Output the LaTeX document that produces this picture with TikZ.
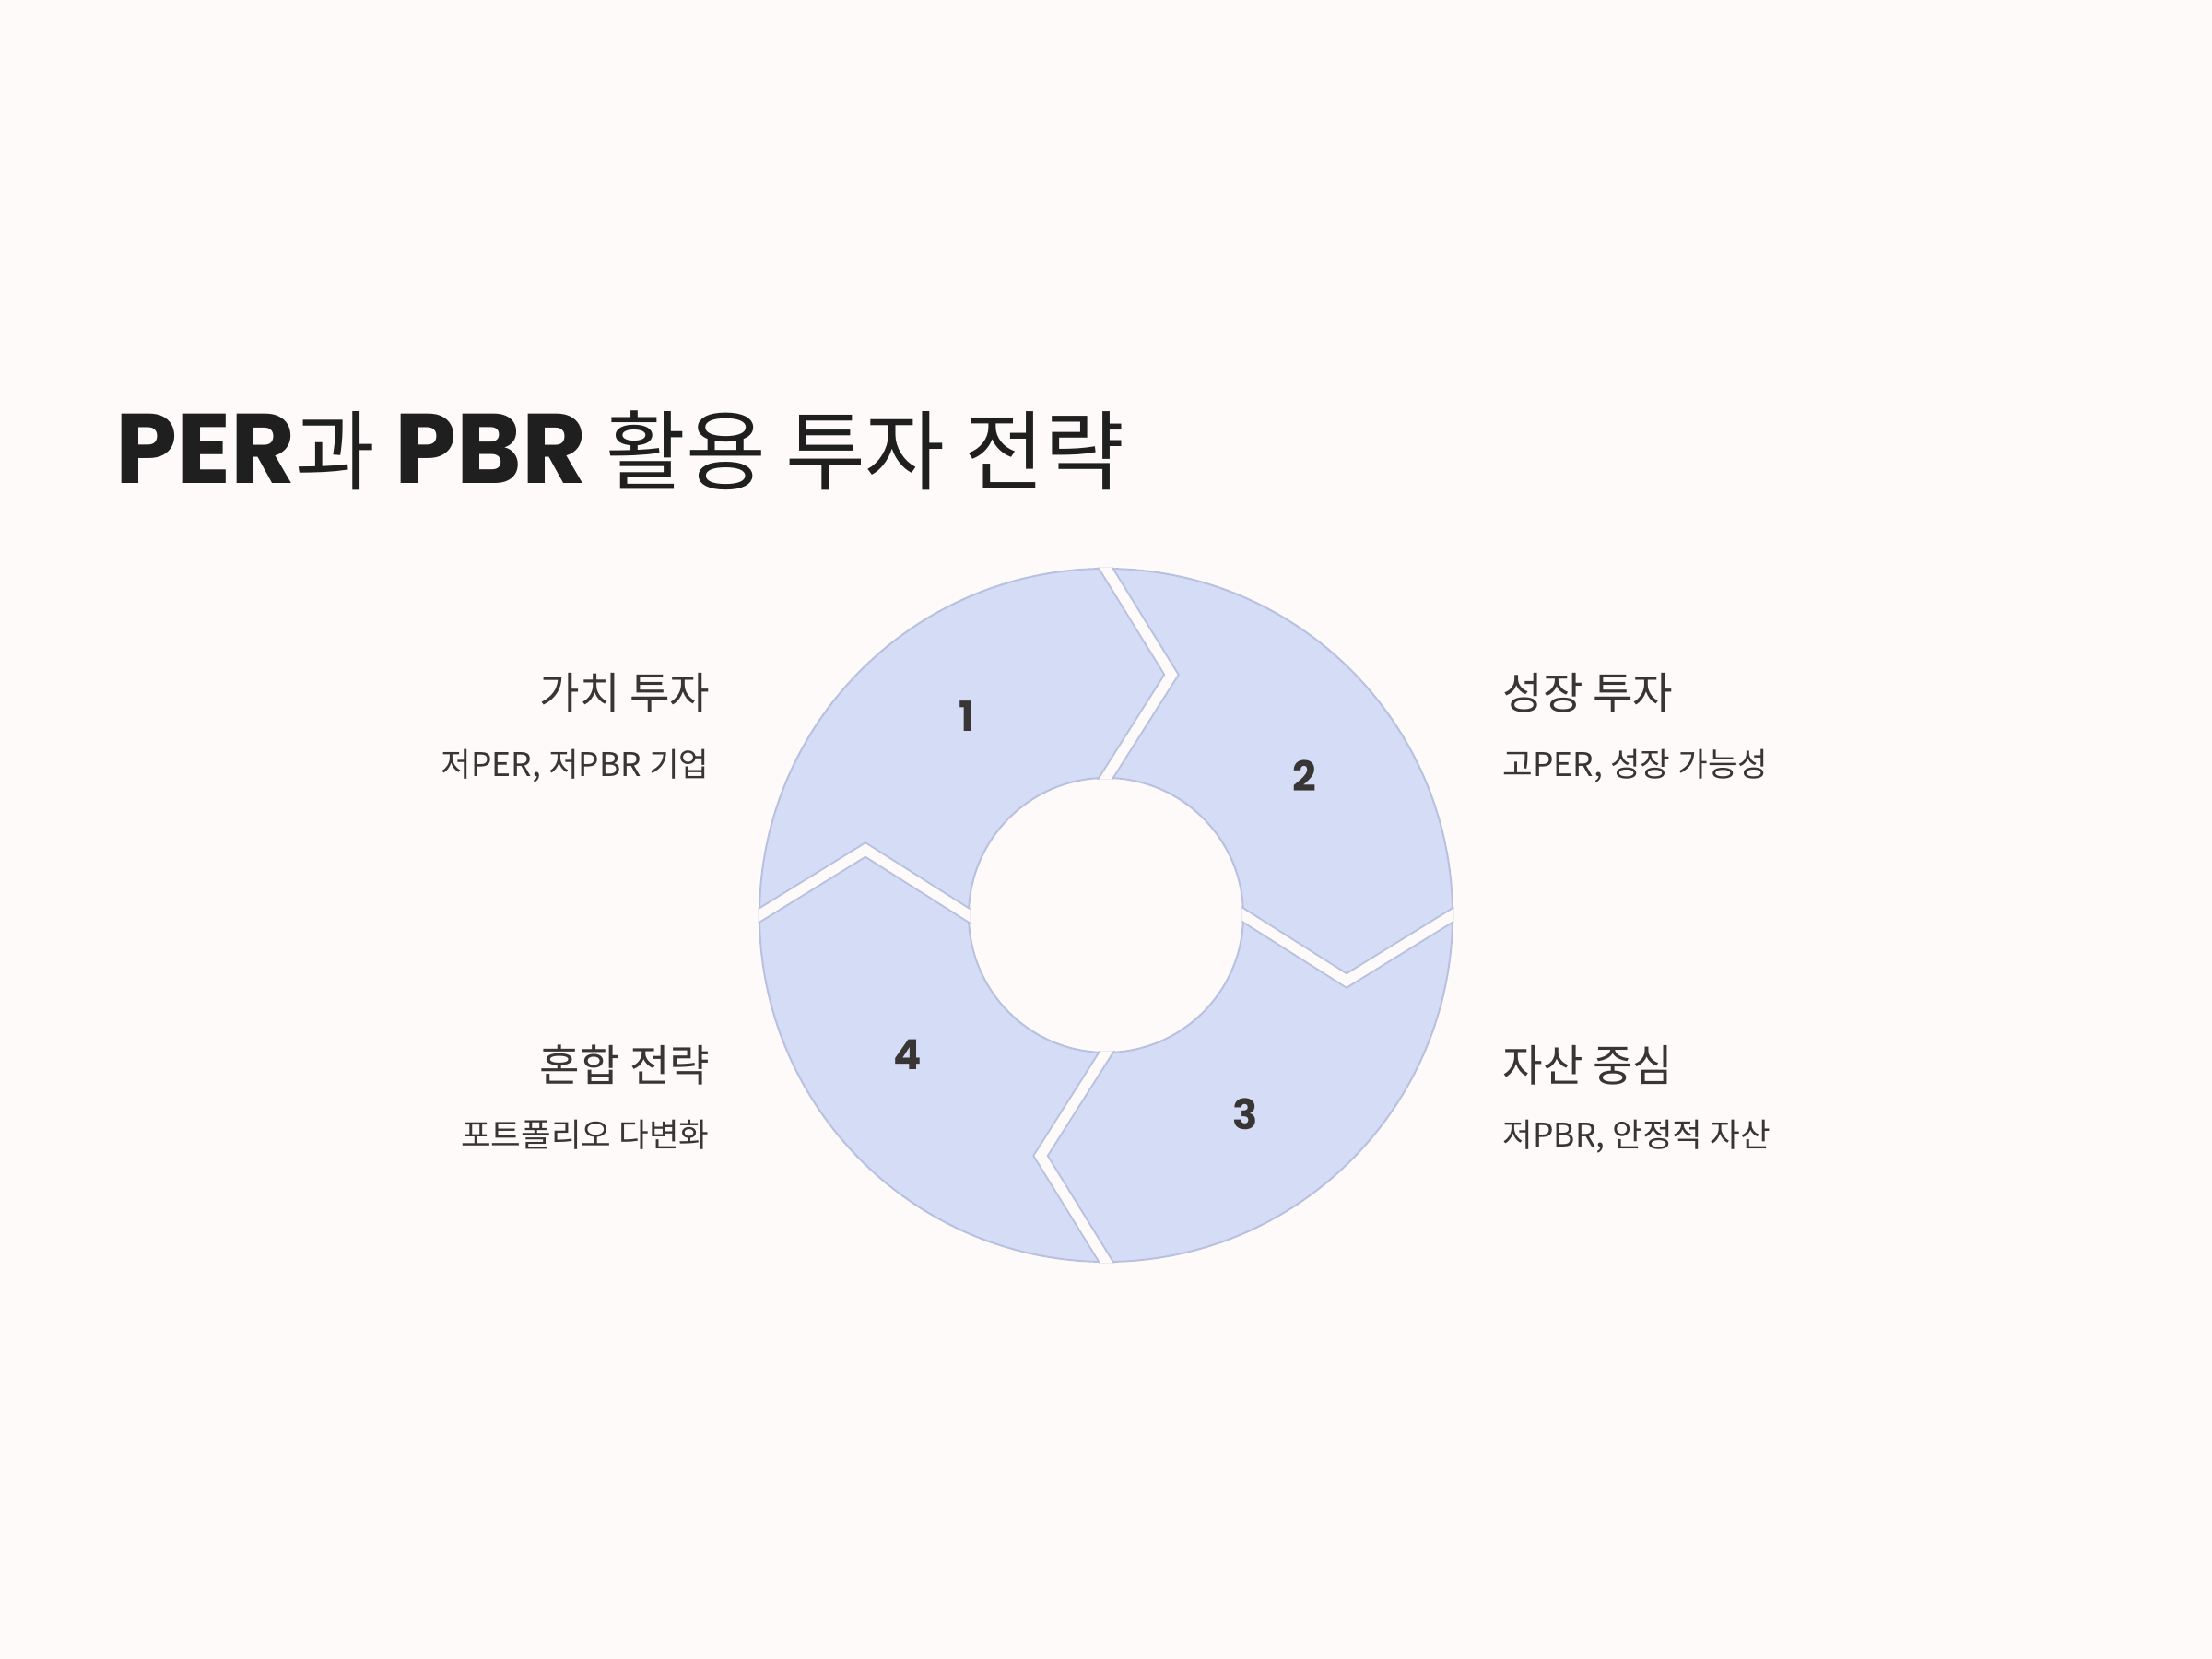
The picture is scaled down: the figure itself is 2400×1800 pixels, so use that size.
\documentclass[tikz,border=0pt]{standalone}
\usepackage{fontspec}
\newfontfamily\kr{Noto Sans CJK KR}
\newfontfamily\pop{Poppins}
\usetikzlibrary{calc}
\definecolor{bg}{HTML}{FDFAF9}
\definecolor{segfill}{HTML}{D5DCF5}
\definecolor{segline}{HTML}{B8C2E0}
\definecolor{txt}{HTML}{3A3535}
\definecolor{ttl}{HTML}{1F1F1F}
\begin{document}
\begin{tikzpicture}[x=0.3pt,y=0.3pt,
  head/.style={font=\kr\fontsize{14.2}{17}\selectfont, text=txt, inner sep=0pt},
  sub/.style={font=\kr\fontsize{10.65}{13}\selectfont, text=txt, inner sep=0pt},
  num/.style={font=\pop\bfseries\fontsize{13.5}{16}\selectfont, text=txt, inner sep=0pt},
  gapline/.style={line width=4.5pt, segline, miter limit=20, shorten <=-4pt, shorten >=-4pt},
  gapfill/.style={line width=3.3pt, bg, miter limit=20, shorten <=-4pt, shorten >=-4pt}]
\fill[bg] (0,0) rectangle (2400,1800);
\useasboundingbox (0,0) rectangle (2400,1800);
\coordinate (C) at (1200,807);
% title
\node[anchor=base west, inner sep=0pt, text=ttl] (title) at (125,1275)
  {{\pop\bfseries\fontsize{32.2}{36}\selectfont PER}{\kr\fontsize{28.3}{32}\selectfont 과 }{\pop\bfseries\fontsize{32.2}{36}\selectfont PBR}{\kr\fontsize{28.3}{32}\selectfont\ 활용 투자 전략}};
% ring
\fill[segfill, draw=segline, line width=0.6pt, even odd rule]
  (C) circle[radius=112.8pt] (C) circle[radius=44.7pt];
\begin{scope}
  \clip ($(C)+(113.25pt,0)$) arc[start angle=0,end angle=360,radius=113.25pt]
     -- ($(C)+(44.25pt,0)$) arc[start angle=360,end angle=0,radius=44.25pt] -- cycle;
  \foreach \k in {0,1,2,3}{
    \begin{scope}[shift={(1200,807)},rotate=-90*\k]
      \draw[gapline] (0,376) -- (71,261) -- (0,149);
      \draw[gapfill] (0,376) -- (71,261) -- (0,149);
    \end{scope}
  }
\end{scope}
% numbers
\path (C) ++(125:78.9pt) node[num] (n1) {1};
\path (C) ++(35:78.9pt) node[num] (n2) {2};
\path (C) ++(-55:78.9pt) node[num] (n3) {3};
\path (C) ++(-145:78.9pt) node[num] (n4) {4};
% labels
\node[head, anchor=base east] (h1) at (771,1030) {가치 투자};
\node[sub, anchor=base east] (s1) at (770,957) {저PER, 저PBR 기업};
\node[head, anchor=base west] (h2) at (1630,1030) {성장 투자};
\node[sub, anchor=base west] (s2) at (1630,957) {고PER, 성장 가능성};
\node[head, anchor=base east] (h4) at (771,626) {혼합 전략};
\node[sub, anchor=base east] (s4) at (770,555) {포트폴리오 다변화};
\node[head, anchor=base west] (h3) at (1630,626) {자산 중심};
\node[sub, anchor=base west] (s3) at (1630,555) {저PBR, 안정적 자산};
\end{tikzpicture}
\end{document}
